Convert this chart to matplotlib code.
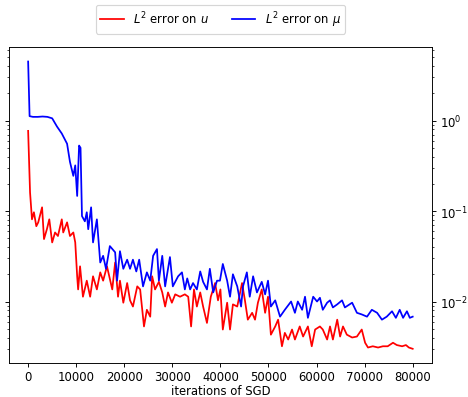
import matplotlib
matplotlib.use("Agg")
import matplotlib.pyplot as plt

# (iteration, L2 error)
err_u = [
    (0, 0.77), (400, 0.16), (800, 0.081), (1200, 0.097), (1700, 0.068), (2100, 0.075),
    (2900, 0.11), (3300, 0.049), (3900, 0.063), (4400, 0.081), (5000, 0.045), (5600, 0.058),
    (6200, 0.053), (7000, 0.081), (7300, 0.058), (8100, 0.075), (8700, 0.053), (9400, 0.058),
    (9800, 0.045), (10200, 0.019), (10400, 0.0136), (10800, 0.0245), (11400, 0.0113),
    (12200, 0.017), (12900, 0.0113), (13500, 0.019), (14300, 0.0136), (15000, 0.021),
    (15600, 0.017), (16400, 0.0245), (17500, 0.0136), (18100, 0.027), (18700, 0.0113),
    (19100, 0.017), (19800, 0.0097), (20600, 0.016), (21200, 0.0103), (21800, 0.0088),
    (22700, 0.0147), (23300, 0.0136), (24100, 0.0053), (24700, 0.0081), (25400, 0.0068),
    (25800, 0.019), (26400, 0.0136), (27200, 0.0165), (27900, 0.0126), (28500, 0.0088),
    (29100, 0.0126), (29900, 0.0097), (30600, 0.012), (31600, 0.0113), (32600, 0.012),
    (33300, 0.0113), (33900, 0.0053), (34500, 0.0136), (35100, 0.0088), (35800, 0.0126),
    (36400, 0.0088), (37200, 0.0058), (38000, 0.0113), (38900, 0.016), (39500, 0.0103),
    (40000, 0.0136), (40500, 0.0049), (41400, 0.0097), (42000, 0.0049), (42600, 0.0093),
    (43500, 0.0088), (44500, 0.016), (45100, 0.0103), (45700, 0.0063), (46600, 0.0075),
    (47200, 0.0063), (47800, 0.0097), (48600, 0.0136), (49300, 0.0075), (49900, 0.0113),
    (50500, 0.0043), (51400, 0.0053), (52000, 0.0063), (52800, 0.0032), (53400, 0.0045),
    (54100, 0.0038), (54900, 0.0049), (55500, 0.0038), (56500, 0.0053), (57200, 0.0041),
    (58200, 0.0053), (59000, 0.0032), (59700, 0.0049), (60700, 0.0053), (61300, 0.0049),
    (62200, 0.0038), (62800, 0.0053), (63400, 0.0038), (64300, 0.0063), (64900, 0.0041),
    (65500, 0.0053), (66300, 0.0043), (67400, 0.004), (68400, 0.0041), (69400, 0.0049),
    (70100, 0.0035), (70700, 0.0031), (71700, 0.0032), (72800, 0.0031), (73800, 0.0032),
    (74800, 0.0032), (75900, 0.0035), (76700, 0.0033), (77800, 0.0032), (78600, 0.0033),
    (79200, 0.0031), (80000, 0.003),
]

err_mu = [
    (0, 4.5), (300, 1.12), (1000, 1.1), (2000, 1.1), (3000, 1.11), (4000, 1.1),
    (5000, 1.06), (6000, 0.86), (7000, 0.72), (8100, 0.555), (8700, 0.35), (9400, 0.245),
    (9800, 0.32), (10200, 0.147), (10600, 0.53), (10900, 0.5), (11200, 0.088),
    (11800, 0.077), (12200, 0.097), (12500, 0.063), (13100, 0.11), (13500, 0.045),
    (14300, 0.081), (15000, 0.027), (15600, 0.032), (16200, 0.023), (17000, 0.041),
    (18100, 0.035), (18500, 0.017), (19100, 0.036), (19800, 0.023), (20600, 0.029),
    (21200, 0.023), (21800, 0.029), (22500, 0.0215), (23100, 0.029), (23900, 0.0147),
    (24700, 0.021), (25400, 0.017), (26000, 0.032), (26800, 0.038), (27200, 0.017),
    (27900, 0.032), (28500, 0.0147), (29500, 0.031), (30100, 0.0147), (31200, 0.019),
    (32000, 0.021), (32600, 0.0136), (33100, 0.018), (33700, 0.0136), (34300, 0.016),
    (35100, 0.0136), (35800, 0.0215), (36400, 0.0165), (37200, 0.0136), (37800, 0.023),
    (38500, 0.0126), (39300, 0.017), (39900, 0.017), (40500, 0.026), (41400, 0.017),
    (42000, 0.0113), (42600, 0.02), (43500, 0.0147), (44300, 0.0088), (44700, 0.0147),
    (45500, 0.021), (46100, 0.0113), (46800, 0.019), (47600, 0.0126), (48600, 0.0165),
    (49300, 0.012), (49900, 0.017), (50500, 0.0088), (51400, 0.0103), (52400, 0.0068),
    (53400, 0.0081), (54700, 0.01), (55500, 0.0075), (56100, 0.01), (57000, 0.0081),
    (57600, 0.0113), (58200, 0.0066), (59300, 0.0113), (60100, 0.01), (60700, 0.011),
    (61300, 0.0081), (62200, 0.0097), (62800, 0.0103), (63400, 0.0086), (64300, 0.0093),
    (65300, 0.0103), (65900, 0.0086), (67400, 0.0097), (68400, 0.0075), (69400, 0.0072),
    (70500, 0.0068), (71500, 0.0081), (72600, 0.0075), (73600, 0.0063), (74600, 0.0068),
    (75700, 0.0078), (76500, 0.0066), (77300, 0.0081), (78000, 0.0066), (78800, 0.0078),
    (79400, 0.0066), (80000, 0.0068),
]

it_u, val_u = zip(*err_u)
it_mu, val_mu = zip(*err_mu)

# drawn at a larger size and lower dpi, like a shrunk-down default figure
fig, ax = plt.subplots(figsize=(5.583, 4.738), dpi=84)
fig.subplots_adjust(left=0.019, right=0.921, top=0.879, bottom=0.085)

ax.plot(it_u, val_u, color="red", label=r"$L^2$ error on $u$")
ax.plot(it_mu, val_mu, color="blue", label=r"$L^2$ error on $\mu$")
ax.set_yscale("log")

ax.tick_params(axis="y", which="both", left=True, right=True,
               labelleft=False, labelright=True)
ax.set_xticks([0, 10000, 20000, 30000, 40000, 50000, 60000, 70000, 80000])
ax.tick_params(axis="x", pad=2.5)
ax.set_xlabel("iterations of SGD", labelpad=1)

ax.legend(loc="center", bbox_to_anchor=(0.5, 1.089), ncol=2)

plt.savefig("out.png", dpi=84)
